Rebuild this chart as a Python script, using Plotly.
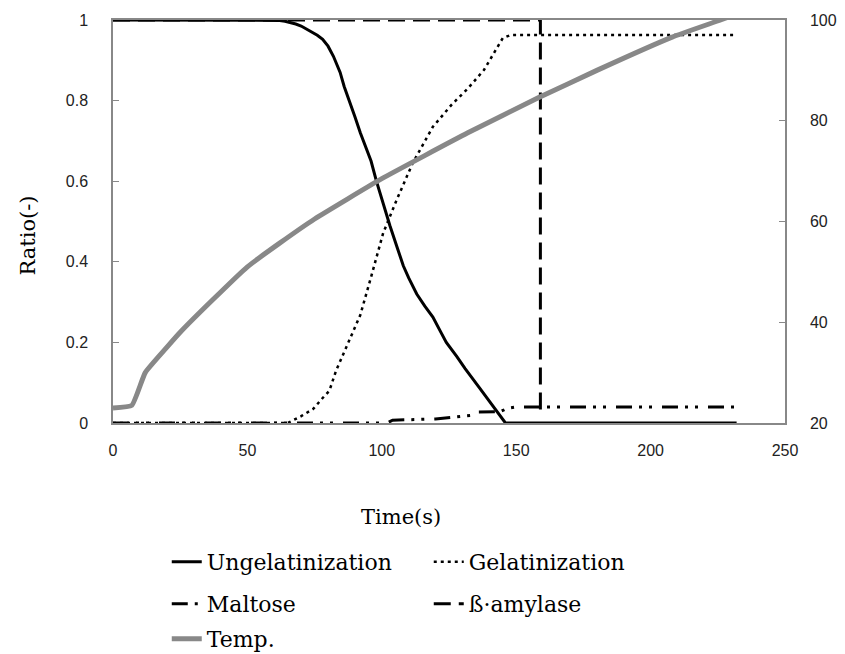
import plotly.graph_objects as go

# ---- data ----
t_ungel = [0, 60, 62, 64, 66, 68, 70, 72, 74, 76, 78, 80, 82, 84.5, 86, 88, 90, 92, 94, 96, 98, 100,
           103, 106, 108, 110, 113, 116, 119, 122, 124, 128, 131, 136, 141, 146, 232]
ungel = [1, 1, 0.999, 0.997, 0.994, 0.99, 0.985, 0.978, 0.97, 0.962, 0.952, 0.935, 0.91, 0.87, 0.835, 0.80,
         0.76, 0.72, 0.685, 0.65, 0.60, 0.555, 0.49, 0.43, 0.39, 0.36, 0.32, 0.29, 0.263, 0.225, 0.20,
         0.164, 0.135, 0.09, 0.045, 0, 0]

t_gel = [0, 65, 70, 74.5, 78, 80.5, 83, 87, 92, 96, 100.5, 105.5, 111.5, 119, 126, 132, 138, 145, 148, 232]
gel = [0, 0, 0.017, 0.035, 0.062, 0.08, 0.13, 0.19, 0.268, 0.362, 0.471, 0.553, 0.645, 0.735, 0.79, 0.83,
       0.876, 0.955, 0.963, 0.963]

t_malt = [0, 102, 104, 120, 130, 135, 136, 144, 147, 150, 232]
malt = [0, 0, 0.007, 0.01, 0.017, 0.02, 0.027, 0.028, 0.037, 0.04, 0.04]

t_amyl = [0, 159, 159]
amyl = [1, 1, 0.015]

t_temp = [0, 7, 12, 20, 25, 37, 50, 62, 75, 100, 132, 158, 180, 208, 226, 232]
temp = [23, 23.5, 30, 35, 38, 44.4, 51, 55.7, 60.5, 68.5, 77.6, 84.5, 90, 96.6, 100, 101.2]

x_ticks = [0, 50, 100, 150, 200, 250]
y_ticks = [0, 0.2, 0.4, 0.6, 0.8, 1]
y_ticklabels = ["0", "0.2", "0.4", "0.6", "0.8", "1"]
y2_ticks = [20, 40, 60, 80, 100]

names = ["Ungelatinization", "Gelatinization", "Maltose", "\u00df\u00b7amylase", "Temp."]
x_title = "Time(s)"
y_title = "Ratio(-)"

serif = "DejaVu Serif"
tickfont = dict(family="Liberation Sans", size=16, color="#222")

fig = go.Figure()
fig.add_trace(go.Scatter(x=t_ungel, y=ungel, mode="lines", name=names[0],
                         line=dict(color="black", width=3), legend="legend"))
fig.add_trace(go.Scatter(x=t_gel, y=gel, mode="lines", name=names[1],
                         line=dict(color="black", width=2.5, dash="3px,4px"), legend="legend"))
fig.add_trace(go.Scatter(x=t_malt, y=malt, mode="lines", name=names[2],
                         line=dict(color="black", width=3, dash="16px,7px,3px,7px,3px,10px"), legend="legend2"))
fig.add_trace(go.Scatter(x=t_amyl, y=amyl, mode="lines", name=names[3],
                         line=dict(color="black", width=3, dash="17px,8px"), legend="legend2"))
fig.add_trace(go.Scatter(x=t_temp, y=temp, mode="lines", name=names[4], yaxis="y2",
                         line=dict(color="#888888", width=5, shape="spline", smoothing=0.4), legend="legend3"))

legend_common = dict(orientation="h", xanchor="left",
                     font=dict(family=serif, size=22, color="black"),
                     bgcolor="rgba(0,0,0,0)", entrywidth=217, entrywidthmode="pixels",
                     x=0.08, tracegroupgap=0)

fig.update_layout(
    width=845, height=654,
    margin=dict(l=113, r=60, t=20, b=231, autoexpand=False),
    plot_bgcolor="white", paper_bgcolor="white",
    showlegend=True,
    legend=dict(**legend_common, y=-0.345, yanchor="middle"),
    legend2=dict(**legend_common, y=-0.449, yanchor="middle"),
    legend3=dict(**legend_common, y=-0.588, yanchor="bottom"),
    xaxis=dict(range=[0, 250], tickvals=x_ticks, showgrid=False, zeroline=False, automargin=False,
               showline=True, linecolor="#888", linewidth=1.5, mirror=True,
               ticks="", tickfont=tickfont, ticklabelstandoff=12),
    yaxis=dict(range=[0, 1], tickvals=y_ticks, ticktext=y_ticklabels, showgrid=False, zeroline=False,
               showline=True, linecolor="#888", linewidth=1.5, automargin=False,
               ticks="inside", ticklen=6, tickcolor="#888", tickfont=tickfont, ticklabelstandoff=20),
    yaxis2=dict(range=[20, 100], tickvals=y2_ticks, overlaying="y", side="right", showgrid=False,
                zeroline=False, showline=True, linecolor="#888", linewidth=1.5, automargin=False,
                ticks="inside", ticklen=6, tickcolor="#888", tickfont=tickfont, ticklabelstandoff=20),
    annotations=[
        dict(text=x_title, xref="paper", yref="paper", x=0.4286, y=-0.233, xanchor="center", yanchor="middle",
             showarrow=False, font=dict(family=serif, size=21, color="black")),
        dict(text=y_title, xref="paper", yref="paper", x=-0.126, y=0.466, xanchor="center", yanchor="middle",
             textangle=-90, showarrow=False, font=dict(family=serif, size=21, color="black")),
    ],
)

fig.write_html("out.html", config={"displayModeBar": False},
               post_script="document.body.style.margin='0';document.body.style.padding='0';")
